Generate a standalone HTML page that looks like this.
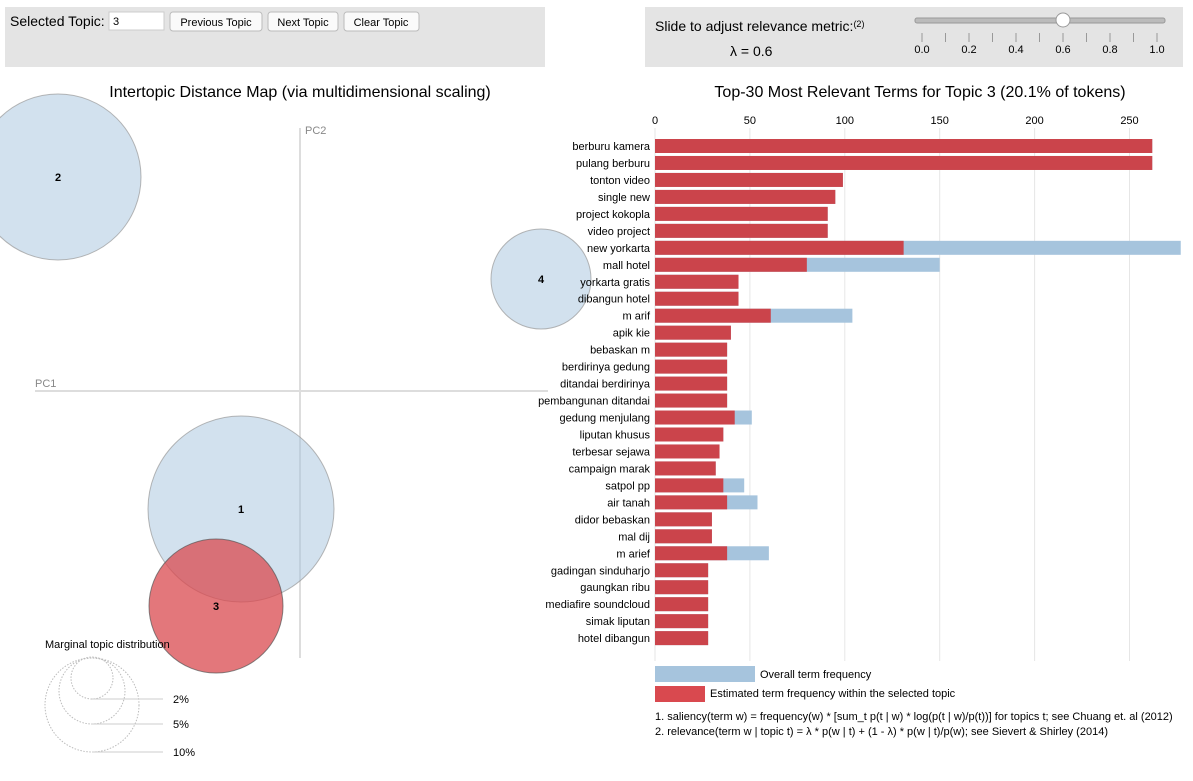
<!DOCTYPE html>
<html><head><meta charset="utf-8"><style>
body{margin:0;width:1193px;height:776px;overflow:hidden;background:#fff;font-family:"Liberation Sans",sans-serif;}
svg text{font-family:"Liberation Sans",sans-serif;}
</style></head><body>
<svg id="c" width="1193" height="776">
<rect x="5" y="7" width="540" height="60" fill="#e4e4e4"/>
<text x="10" y="26" font-size="14">Selected Topic:</text>
<rect x="109" y="12" width="55" height="18" fill="#fff" stroke="#ccc"/>
<text x="113" y="25" font-size="11">3</text>
<g><rect x="170" y="12" width="92" height="19" rx="3" fill="#fafafa" stroke="#bbb"/><text x="216" y="26" font-size="11" text-anchor="middle">Previous Topic</text></g>
<g><rect x="268" y="12" width="70" height="19" rx="3" fill="#fafafa" stroke="#bbb"/><text x="303" y="26" font-size="11" text-anchor="middle">Next Topic</text></g>
<g><rect x="344" y="12" width="75" height="19" rx="3" fill="#fafafa" stroke="#bbb"/><text x="381" y="26" font-size="11" text-anchor="middle">Clear Topic</text></g>
<rect x="645" y="7" width="538" height="60" fill="#e4e4e4"/>
<text x="655" y="31" font-size="14">Slide to adjust relevance metric:<tspan font-size="9" dy="-4">(2)</tspan></text>
<text x="730" y="56" font-size="14">λ = 0.6</text>
<rect x="915" y="18" width="250" height="5" rx="2" fill="#bbb" stroke="#999"/>
<g id="sticks"></g>
<circle cx="1063" cy="20" r="7" fill="#fff" stroke="#999"/>
<text x="300" y="97" font-size="16" text-anchor="middle">Intertopic Distance Map (via multidimensional scaling)</text>
<text x="920" y="97" font-size="16" text-anchor="middle">Top-30 Most Relevant Terms for Topic 3 (20.1% of tokens)</text>
<line x1="300" y1="128" x2="300" y2="658" stroke="#ddd" stroke-width="2"/>
<line x1="35" y1="391" x2="548" y2="391" stroke="#ddd" stroke-width="2"/>
<text x="305" y="134" font-size="11" fill="#888">PC2</text>
<text x="35" y="387" font-size="11" fill="#888">PC1</text>
<g id="topics"></g>
<text x="45" y="648" font-size="11">Marginal topic distribution</text>
<g>
<circle cx="92" cy="705" r="47" fill="none" stroke="#bbb" stroke-dasharray="1.5,1.5"/>
<circle cx="92" cy="691" r="33" fill="none" stroke="#bbb" stroke-dasharray="1.5,1.5"/>
<circle cx="92" cy="678" r="21" fill="none" stroke="#bbb" stroke-dasharray="1.5,1.5"/>
<line x1="92" y1="699" x2="163" y2="699" stroke="#ccc"/><line x1="92" y1="724" x2="163" y2="724" stroke="#ccc"/><line x1="92" y1="752" x2="163" y2="752" stroke="#ccc"/>
<text x="173" y="699" font-size="11" dy="4">2%</text><text x="173" y="724" font-size="11" dy="4">5%</text><text x="173" y="752" font-size="11" dy="4">10%</text>
</g>
<g id="bars"></g>
<rect x="655" y="666" width="100" height="16" fill="#a6c4dd"/>
<text x="760" y="678" font-size="11">Overall term frequency</text>
<rect x="655" y="686" width="50" height="16" fill="#d9494f"/>
<text x="710" y="697" font-size="11">Estimated term frequency within the selected topic</text>
<text x="655" y="720" font-size="11">1. saliency(term w) = frequency(w) * [sum_t p(t | w) * log(p(t | w)/p(t))] for topics t; see Chuang et. al (2012)</text>
<text x="655" y="735" font-size="11">2. relevance(term w | topic t) = λ * p(w | t) + (1 - λ) * p(w | t)/p(w); see Sievert &amp; Shirley (2014)</text>
</svg>
<script>
const terms=["berburu kamera","pulang berburu","tonton video","single new","project kokopla","video project","new yorkarta","mall hotel","yorkarta gratis","dibangun hotel","m arif","apik kie","bebaskan m","berdirinya gedung","ditandai berdirinya","pembangunan ditandai","gedung menjulang","liputan khusus","terbesar sejawa","campaign marak","satpol pp","air tanah","didor bebaskan","mal dij","m arief","gadingan sinduharjo","gaungkan ribu","mediafire soundcloud","simak liputan","hotel dibangun"];
const topicFreq=[262,262,99,95,91,91,131,80,44,44,61,40,38,38,38,38,42,36,34,32,36,38,30,30,38,28,28,28,28,28];
const overallFreq=[262,262,99,95,91,91,277,150,44,44,104,40,38,38,38,38,51,36,34,32,47,54,30,30,60,28,28,28,28,28];
const xTicks=[0,50,100,150,200,250];
const lambdaTicks=["0.0","0.2","0.4","0.6","0.8","1.0"];
const topicIds=["1","2","3","4"];
const topicX=[241,58,216,541];
const topicY=[509,177,606,279];
const topicR=[93,83,67,50];
const NS="http://www.w3.org/2000/svg";
function mk(t,a,p){const e=document.createElementNS(NS,t);for(const k in a)e.setAttribute(k,a[k]);p.appendChild(e);return e;}
const x=v=>655+v*1.898;
const y=i=>146+i*16.97;
const bars=document.getElementById('bars');
xTicks.forEach(t=>{
 const l=mk('line',{x1:x(t),x2:x(t),y1:128,y2:661,stroke:'#e6e6e6'},bars);
 
 
 const tx=mk('text',{x:x(t),y:124,'font-size':11,'text-anchor':'middle'},bars);tx.textContent=t;
 
 
});
terms.forEach((tm,i)=>{
 const b=mk('rect',{x:x(0),y:y(i)-7,width:x(overallFreq[i])-x(0),height:14,fill:'#a6c4dd'},bars);
 
 
 const r=mk('rect',{x:x(0),y:y(i)-7,width:x(topicFreq[i])-x(0),height:14,fill:'#cb444b'},bars);
 
 
 const t=mk('text',{x:650,y:y(i)+4,'font-size':11,'text-anchor':'end'},bars);t.textContent=tm;
 
 
});
const st=document.getElementById('sticks');
lambdaTicks.forEach((t,i)=>{
 const sx=922+i*47;
 [0,1].forEach(h=>{if(i<5||h==0){const l=mk('line',{x1:sx+h*23.5,x2:sx+h*23.5,y1:33,y2:42,stroke:'#999'},st);
 
 }});
 const tx=mk('text',{x:sx,y:53,'font-size':11,'text-anchor':'middle'},st);tx.textContent=t;
 
 
});
const tp=document.getElementById('topics');
topicIds.forEach((id,i)=>{
 const sel=id==="3";
 const c=mk('circle',{cx:topicX[i],cy:topicY[i],r:topicR[i],fill:sel?'#d9494f':'#a6c4dd','fill-opacity':sel?0.75:0.5,stroke:sel?'#555':'#999','stroke-opacity':0.7},tp);
 
 
 const t=mk('text',{x:topicX[i],y:topicY[i]+4,'font-size':11,'font-weight':'bold','text-anchor':'middle'},tp);t.textContent=id;
 
 
});
</script>
</body></html>
